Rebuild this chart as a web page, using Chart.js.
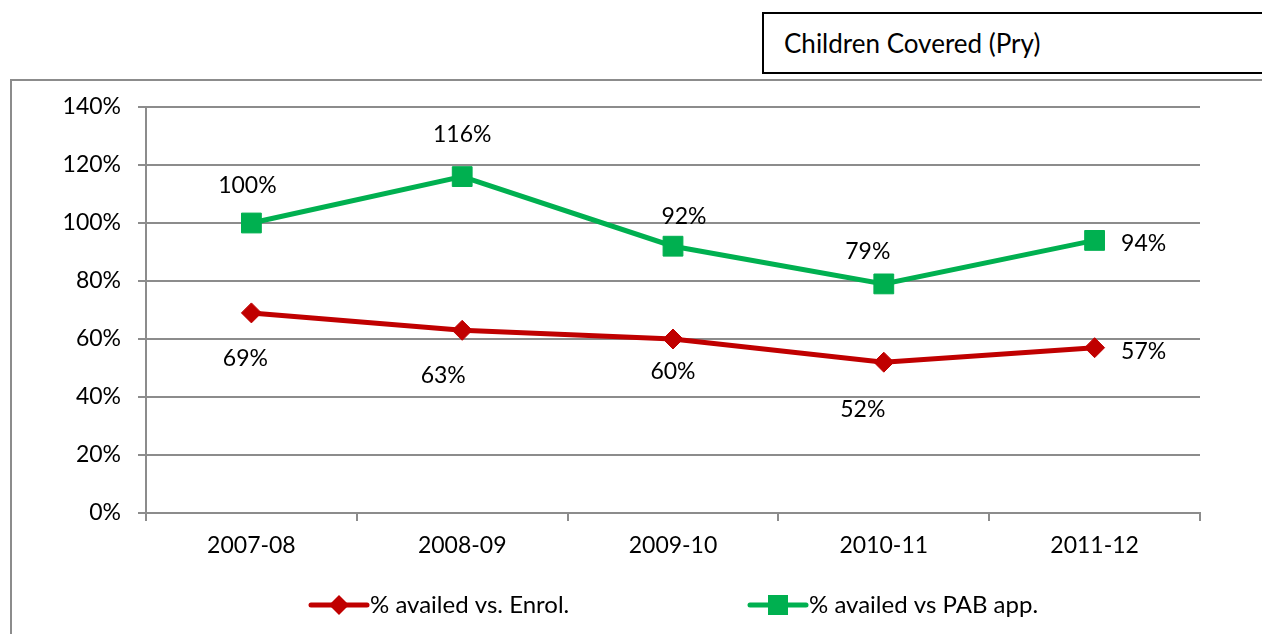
<!DOCTYPE html>
<html>
<head>
<meta charset="utf-8">
<script src="https://cdn.jsdelivr.net/npm/chart.js@4"></script>
<style>
  html, body { margin: 0; padding: 0; background: #fff; }
  #wrap { position: relative; width: 1262px; height: 634px; overflow: hidden; font-family: Lato, "Open Sans", sans-serif; }
  #frame { position: absolute; left: 10px; top: 79px; width: 1300px; height: 600px;
           border-left: 2px solid #8c8c8c; border-top: 2px solid #8c8c8c; }
  #titleBox { position: absolute; left: 762px; top: 12px; width: 520px; height: 58px;
              border: 2px solid #000; box-sizing: content-box; }
  #titleBox span { position: absolute; left: 20px; top: 13px; font-size: 26px; color: #000; }
  canvas { position: absolute; left: 0; top: 0; }
</style>
</head>
<body>
<div id="wrap">
  <div id="frame"></div>
  <div id="titleBox"><span>Children Covered (Pry)</span></div>
  <canvas id="chart" width="1262" height="634"></canvas>
</div>
<script>
// datos del gráfico
const years = ['2007-08', '2008-09', '2009-10', '2010-11', '2011-12'];
const enrolPct = [69, 63, 60, 52, 57];
const pabPct = [100, 116, 92, 79, 94];
const yTicks = [0, 20, 40, 60, 80, 100, 120, 140];

// desplazamiento de las etiquetas (px) respecto a cada punto
const enrolLabelShift = [[-6, 46], [-19, 45], [0, 33], [-21, 47], [49, 4]];
const pabLabelShift = [[-4, -37], [0, -42], [11, -30], [-16, -32], [49, 3]];

const FONT = 'Lato, "Open Sans", sans-serif';
const RED = '#C00000';
const GREEN = '#00B050';
const GRID = '#8c8c8c';

// etiquetas de datos, estilo Excel
const dataLabels = {
  id: 'dataLabels',
  afterDatasetsDraw(chart) {
    const ctx = chart.ctx;
    ctx.save();
    ctx.font = '23px ' + FONT;
    ctx.fillStyle = '#000';
    ctx.textAlign = 'center';
    ctx.textBaseline = 'middle';
    chart.data.datasets.forEach((ds, i) => {
      chart.getDatasetMeta(i).data.forEach((pt, j) => {
        const [dx, dy] = ds.labelShift[j];
        ctx.fillText(ds.data[j] + '%', pt.x + dx, pt.y + dy);
      });
    });
    ctx.restore();
  }
};

// leyenda con línea + marcador
const lineLegend = {
  id: 'lineLegend',
  afterDraw(chart) {
    const ctx = chart.ctx;
    const y = 605;
    const spots = [311, 750];
    ctx.save();
    chart.data.datasets.forEach((ds, i) => {
      const x0 = spots[i];
      ctx.strokeStyle = ds.borderColor;
      ctx.lineWidth = 5;
      ctx.lineCap = 'round';
      ctx.beginPath();
      ctx.moveTo(x0, y);
      ctx.lineTo(x0 + 56, y);
      ctx.stroke();
      ctx.fillStyle = ds.borderColor;
      ctx.beginPath();
      const cx = x0 + 28;
      if (ds.pointStyle === 'rect') {
        ctx.rect(cx - 10, y - 10, 20, 20);
      } else {
        ctx.moveTo(cx, y - 10); ctx.lineTo(cx + 10, y); ctx.lineTo(cx, y + 10); ctx.lineTo(cx - 10, y);
        ctx.closePath();
      }
      ctx.fill();
      ctx.fillStyle = '#000';
      ctx.font = '24px ' + FONT;
      ctx.textBaseline = 'middle';
      ctx.textAlign = 'left';
      ctx.fillText(ds.label, x0 + 59, y);
    });
    ctx.restore();
  }
};

new Chart(document.getElementById('chart'), {
  type: 'line',
  data: {
    labels: years,
    datasets: [
      {
        label: '% availed vs. Enrol.',
        data: enrolPct,
        labelShift: enrolLabelShift,
        borderColor: RED,
        backgroundColor: RED,
        borderWidth: 5,
        pointStyle: 'rectRot',
        pointRadius: 10,
        pointHoverRadius: 10,
        pointBorderWidth: 1,
        tension: 0
      },
      {
        label: '% availed vs PAB app.',
        data: pabPct,
        labelShift: pabLabelShift,
        borderColor: GREEN,
        backgroundColor: GREEN,
        borderWidth: 5,
        pointStyle: 'rect',
        pointRadius: 14,
        pointHoverRadius: 14,
        pointBorderWidth: 1,
        tension: 0
      }
    ]
  },
  options: {
    responsive: false,
    animation: false,
    events: [],
    layout: { padding: { left: 0, right: 62, top: 107, bottom: 0 } },
    plugins: { legend: { display: false }, title: { display: false }, tooltip: { enabled: false } },
    scales: {
      x: {
        offset: true,
        afterFit: s => { s.height = 121; },
        grid: { offset: true, drawOnChartArea: false, drawTicks: true, tickLength: 8, color: GRID, lineWidth: 2 },
        border: { display: true, color: GRID, width: 2 },
        ticks: { color: '#000', font: { family: FONT, size: 23 }, padding: 11 }
      },
      y: {
        min: 0,
        max: 140,
        afterFit: s => { s.width = 146; },
        afterBuildTicks: s => { s.ticks = yTicks.map(v => ({ value: v })); },
        grid: { color: GRID, lineWidth: 2, tickLength: 8 },
        border: { display: true, color: GRID, width: 2 },
        ticks: { color: '#000', font: { family: FONT, size: 23 }, padding: 17, callback: v => v + '%' }
      }
    }
  },
  plugins: [dataLabels, lineLegend]
});
</script>
</body>
</html>
